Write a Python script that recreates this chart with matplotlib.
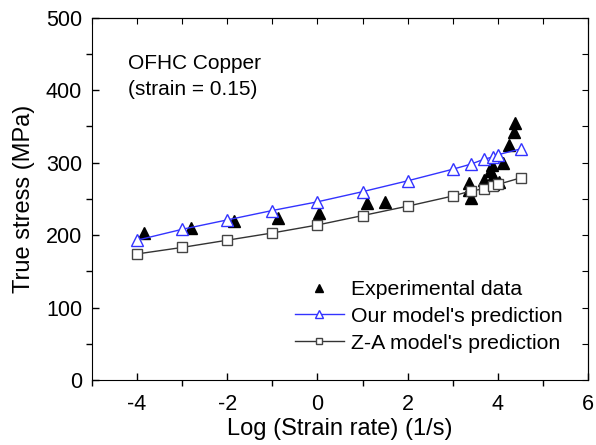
import matplotlib.pyplot as plt
from matplotlib.ticker import MultipleLocator

# model predictions
model_x = [-4, -3, -2, -1, 0, 1, 2, 3, 3.4, 3.7, 3.9, 4.0, 4.5]
our_model = [193, 208, 221, 234, 246, 260, 275, 291, 298, 305, 308, 311, 319]
za_model = [174, 183, 193, 203, 214, 227, 240, 254, 261, 264, 268, 270, 279]

# experimental points
exp_x = [-3.85, -2.8, -1.85, -0.87, 0.03, 1.1, 1.5, 3.35, 3.35, 3.4, 3.68,
         3.83, 3.86, 3.89, 3.9, 4.03, 4.12, 4.25, 4.36, 4.38]
exp_y = [203, 210, 220, 224, 230, 244, 246, 272, 262, 251, 276,
         288, 297, 281, 271, 274, 299, 325, 343, 355]


def main():
    plt.rcParams['font.family'] = ['Liberation Sans', 'DejaVu Sans']
    plt.rcParams['axes.unicode_minus'] = False

    fig = plt.figure(figsize=(5.96, 4.45), dpi=100)
    ax = fig.add_axes([0.154, 0.146, 0.833, 0.814])

    ax.plot(exp_x, exp_y, linestyle='none', marker='^', color='black',
            markersize=8, label='Experimental data')
    ax.plot(model_x, our_model, color='#3333ff', linewidth=1,
            marker='^', markersize=8.5, markerfacecolor='white',
            markeredgecolor='#3333ff', label="Our model's prediction")
    ax.plot(model_x, za_model, color='#333333', linewidth=1,
            marker='s', markersize=6.5, markerfacecolor='white',
            markeredgecolor='#444444', label="Z-A model's prediction")

    ax.set_xlim(-5, 6)
    ax.set_ylim(0, 500)
    ax.xaxis.set_major_locator(MultipleLocator(2))
    ax.xaxis.set_minor_locator(MultipleLocator(1))
    ax.yaxis.set_major_locator(MultipleLocator(100))
    ax.yaxis.set_minor_locator(MultipleLocator(50))
    ax.tick_params(which='major', direction='in', length=5, width=1)
    ax.tick_params(which='minor', direction='out', length=4, width=1)
    ax.tick_params(axis='x', labelsize=15.5, pad=10)
    ax.tick_params(axis='y', labelsize=15.5, pad=7)

    top = ax.secondary_xaxis('top')
    top.xaxis.set_major_locator(MultipleLocator(1))
    top.tick_params(direction='in', length=4, labeltop=False)
    right = ax.secondary_yaxis('right')
    right.yaxis.set_major_locator(MultipleLocator(50))
    right.tick_params(direction='in', length=4, labelright=False)

    ax.set_xlabel('Log (Strain rate) (1/s)', fontsize=17, labelpad=2)
    ax.set_ylabel('True stress (MPa)', fontsize=17, labelpad=8)

    ax.text(-4.2, 419, 'OFHC Copper\n(strain = 0.15)', fontsize=15,
            va='center', ha='left', linespacing=1.45)

    ax.legend(loc='upper left', bbox_to_anchor=(0.409, 0.276), frameon=False,
              fontsize=15.3, handlelength=2.3, handletextpad=0.33,
              labelspacing=0.37, borderaxespad=0, borderpad=0,
              markerscale=0.65)

    fig.savefig('out.png', dpi=100)


if __name__ == "__main__":
    main()
